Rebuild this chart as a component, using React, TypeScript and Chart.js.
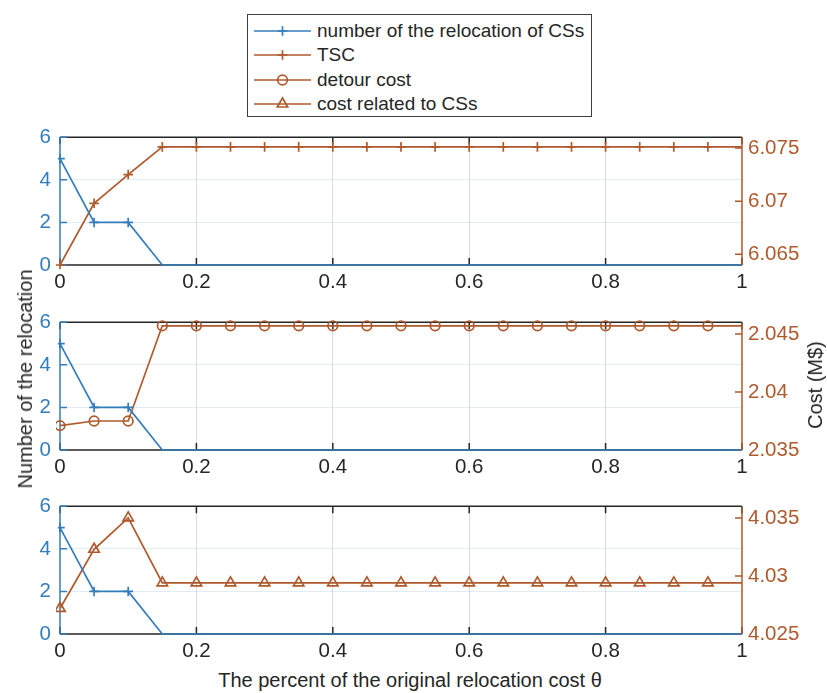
import React, { useEffect, useRef } from "react";
import { Chart, registerables } from "chart.js";

Chart.register(...registerables);

// ---------- data ----------
const theta = [0, 0.05, 0.1, 0.15, 0.2, 0.25, 0.3, 0.35, 0.4, 0.45, 0.5, 0.55, 0.6, 0.65, 0.7, 0.75, 0.8, 0.85, 0.9, 0.95, 1];
const relocationCount = [5, 2, 2, 0, 0, 0, 0, 0, 0, 0, 0, 0, 0, 0, 0, 0, 0, 0, 0, 0, 0];
const tscCost = [6.064, 6.0698, 6.0725, 6.0751, 6.0751, 6.0751, 6.0751, 6.0751, 6.0751, 6.0751, 6.0751, 6.0751, 6.0751, 6.0751, 6.0751, 6.0751, 6.0751, 6.0751, 6.0751, 6.0751, 6.0751];
const detourCost = [2.0371, 2.0375, 2.0375, 2.0457, 2.0457, 2.0457, 2.0457, 2.0457, 2.0457, 2.0457, 2.0457, 2.0457, 2.0457, 2.0457, 2.0457, 2.0457, 2.0457, 2.0457, 2.0457, 2.0457, 2.0457];
const csRelatedCost = [4.0272, 4.0323, 4.035, 4.0294, 4.0294, 4.0294, 4.0294, 4.0294, 4.0294, 4.0294, 4.0294, 4.0294, 4.0294, 4.0294, 4.0294, 4.0294, 4.0294, 4.0294, 4.0294, 4.0294, 4.0294];

const xTicks = [0, 0.2, 0.4, 0.6, 0.8, 1];
const xTickLabels = ["0", "0.2", "0.4", "0.6", "0.8", "1"];
const leftTicks = [0, 2, 4, 6];
const leftTickLabels = ["0", "2", "4", "6"];
const leftRange = [0, 6];

const tscTicks = [6.065, 6.07, 6.075];
const tscTickLabels = ["6.065", "6.07", "6.075"];
const tscRange = [6.064, 6.076];
const detourTicks = [2.035, 2.04, 2.045];
const detourTickLabels = ["2.035", "2.04", "2.045"];
const detourRange = [2.035, 2.046];
const csTicks = [4.025, 4.03, 4.035];
const csTickLabels = ["4.025", "4.03", "4.035"];
const csRange = [4.025, 4.036];

const legendLabels = ["number of the relocation of CSs", "TSC", "detour cost", "cost related to CSs"];
const xTitle = "The percent of the original relocation cost θ";
const yLeftTitle = "Number of the relocation";
const yRightTitle = "Cost (M$)";

// ---------- style ----------
const BLUE = "#337DBD";
const BROWN = "#AF5A2D";
const DARK = "#262626";
const GRID_GRAY = "#dcdcdc";
const GRID_BLUE = "rgba(51,125,189,0.15)";
const FONT = "'Liberation Sans', Arial, Helvetica, sans-serif";
const TICK_FONT = 20.5;
const W = 827;
const AREA_LEFT = 60;
const AREA_RIGHT = 742;
const AREA_H = 133;
const PAD_TOP = 16;
const XAXIS_H = 32;
const TICK_LEN = 7;
const LW = 1.7;

const boxPlugin = {
  id: "matlabBox",
  beforeDatasetsDraw(chart: any) {
    const { ctx, chartArea } = chart;
    const { left, right, top, bottom } = chartArea;
    const x = chart.scales.x;
    const yL = chart.scales.yL;
    const yR = chart.scales.yR;
    ctx.save();
    ctx.lineWidth = 1.5;
    ctx.strokeStyle = DARK;
    ctx.beginPath();
    ctx.moveTo(left, top);
    ctx.lineTo(right, top);
    ctx.moveTo(left, bottom);
    ctx.lineTo(right, bottom);
    xTicks.forEach((v) => {
      const px = x.getPixelForValue(v);
      ctx.moveTo(px, bottom);
      ctx.lineTo(px, bottom - TICK_LEN);
      ctx.moveTo(px, top);
      ctx.lineTo(px, top + TICK_LEN);
    });
    ctx.stroke();
    ctx.strokeStyle = BLUE;
    ctx.beginPath();
    ctx.moveTo(left, top);
    ctx.lineTo(left, bottom);
    leftTicks.forEach((v) => {
      const py = yL.getPixelForValue(v);
      ctx.moveTo(left, py);
      ctx.lineTo(left + TICK_LEN, py);
    });
    ctx.stroke();
    ctx.strokeStyle = BROWN;
    ctx.beginPath();
    ctx.moveTo(right, top);
    ctx.lineTo(right, bottom);
    (yR.ticks || []).forEach((t: any) => {
      const py = yR.getPixelForValue(t.value);
      ctx.moveTo(right, py);
      ctx.lineTo(right - TICK_LEN, py);
    });
    ctx.stroke();
    ctx.restore();
  },
};

type SubProps = {
  areaTop: number;
  costValues: number[];
  costLabel: string;
  range: number[];
  ticks: number[];
  tickLabels: string[];
  marker: string;
  markerRadius: number;
};

function Subplot(props: SubProps) {
  const ref = useRef<HTMLCanvasElement | null>(null);
  const height = PAD_TOP + AREA_H + XAXIS_H;
  useEffect(() => {
    if (!ref.current) return;
    const last = theta.length - 1;
    const chart = new Chart(ref.current, {
      type: "line",
      data: {
        datasets: [
          {
            label: legendLabels[0],
            data: theta.map((t, i) => ({ x: t, y: relocationCount[i] })),
            yAxisID: "yL",
            borderColor: BLUE,
            backgroundColor: "rgba(0,0,0,0)",
            borderWidth: LW,
            pointStyle: "cross",
            pointRadius: (c: any) => (c.raw && c.raw.y === 0 ? 0 : 4.8),
            pointBorderColor: BLUE,
            pointBorderWidth: LW,
            pointBackgroundColor: "rgba(0,0,0,0)",
            tension: 0,
            clip: 2,
          } as any,
          {
            label: props.costLabel,
            data: theta.map((t, i) => ({ x: t, y: props.costValues[i] })),
            yAxisID: "yR",
            borderColor: BROWN,
            backgroundColor: "rgba(0,0,0,0)",
            borderWidth: LW,
            pointStyle: props.marker,
            pointRadius: (c: any) => (c.dataIndex === last ? 0 : props.markerRadius),
            pointBorderColor: BROWN,
            pointBorderWidth: LW,
            pointBackgroundColor: "rgba(0,0,0,0)",
            tension: 0,
            clip: 4,
          } as any,
        ],
      },
      options: {
        responsive: false,
        animation: false,
        events: [],
        layout: { padding: { top: PAD_TOP, left: 0, right: 0, bottom: 0 } },
        plugins: { legend: { display: false }, tooltip: { enabled: false } },
        scales: {
          x: {
            type: "linear",
            min: 0,
            max: 1,
            afterBuildTicks: (s: any) => {
              s.ticks = xTicks.map((v) => ({ value: v }));
            },
            afterFit: (s: any) => {
              s.height = XAXIS_H;
            },
            ticks: {
              callback: (_v: any, i: number) => xTickLabels[i],
              color: DARK,
              font: { family: FONT, size: TICK_FONT },
              padding: 5,
              maxRotation: 0,
              autoSkip: false,
            },
            grid: {
              drawTicks: false,
              lineWidth: 1,
              color: (c: any) =>
                c.tick && (c.tick.value === 0 || c.tick.value === 1) ? "rgba(0,0,0,0)" : GRID_GRAY,
            },
            border: { display: false },
          },
          yL: {
            type: "linear",
            position: "left",
            min: leftRange[0],
            max: leftRange[1],
            afterBuildTicks: (s: any) => {
              s.ticks = leftTicks.map((v) => ({ value: v }));
            },
            afterFit: (s: any) => {
              s.width = AREA_LEFT;
            },
            ticks: {
              callback: (_v: any, i: number) => leftTickLabels[i],
              color: BLUE,
              font: { family: FONT, size: TICK_FONT },
              padding: 9,
            },
            grid: {
              drawTicks: false,
              lineWidth: 1,
              color: (c: any) =>
                c.tick && (c.tick.value === leftRange[0] || c.tick.value === leftRange[1])
                  ? "rgba(0,0,0,0)"
                  : GRID_BLUE,
            },
            border: { display: false },
          },
          yR: {
            type: "linear",
            position: "right",
            min: props.range[0],
            max: props.range[1],
            afterBuildTicks: (s: any) => {
              s.ticks = props.ticks.map((v) => ({ value: v }));
            },
            afterFit: (s: any) => {
              s.width = W - AREA_RIGHT;
            },
            ticks: {
              callback: (_v: any, i: number) => props.tickLabels[i],
              color: BROWN,
              font: { family: FONT, size: TICK_FONT },
              padding: 6,
            },
            grid: { display: false, drawTicks: false },
            border: { display: false },
          },
        },
      } as any,
      plugins: [boxPlugin],
    });
    return () => chart.destroy();
  }, []);
  return (
    <canvas
      ref={ref}
      width={W}
      height={height}
      style={{ position: "absolute", left: 0, top: props.areaTop - PAD_TOP, width: W, height }}
    />
  );
}

function LegendGlyph({ kind, color }: { kind: string; color: string }) {
  const cx = 34.5;
  const cy = 12;
  let marker: any = null;
  if (kind === "cross") {
    marker = (
      <path d={`M${cx - 4.8},${cy} L${cx + 4.8},${cy} M${cx},${cy - 4.8} L${cx},${cy + 4.8}`} stroke={color} strokeWidth={LW} />
    );
  } else if (kind === "circle") {
    marker = <circle cx={cx} cy={cy} r={4.8} fill="none" stroke={color} strokeWidth={LW} />;
  } else if (kind === "triangle") {
    const r = 6;
    const pts = [
      [cx, cy - r],
      [cx + r * Math.sin((2 * Math.PI) / 3), cy - r * Math.cos((2 * Math.PI) / 3)],
      [cx - r * Math.sin((2 * Math.PI) / 3), cy - r * Math.cos((2 * Math.PI) / 3)],
    ];
    marker = <polygon points={pts.map((p) => p.join(",")).join(" ")} fill="none" stroke={color} strokeWidth={LW} />;
  }
  return (
    <svg width={66} height={24} style={{ position: "absolute", left: 0, top: 0 }}>
      <line x1={6} y1={cy} x2={63} y2={cy} stroke={color} strokeWidth={LW} />
      {marker}
    </svg>
  );
}

const legendKinds = ["cross", "cross", "circle", "triangle"];
const legendColors = [BLUE, BROWN, BROWN, BROWN];

export default function App() {
  useEffect(() => {
    document.body.style.margin = "0";
  }, []);
  return (
    <div style={{ position: "relative", width: W, height: 693, background: "#fff", fontFamily: FONT, overflow: "hidden" }}>
      <Subplot areaTop={132} costValues={tscCost} costLabel={legendLabels[1]} range={tscRange} ticks={tscTicks} tickLabels={tscTickLabels} marker="cross" markerRadius={4.8} />
      <Subplot areaTop={317} costValues={detourCost} costLabel={legendLabels[2]} range={detourRange} ticks={detourTicks} tickLabels={detourTickLabels} marker="circle" markerRadius={4.8} />
      <Subplot areaTop={501} costValues={csRelatedCost} costLabel={legendLabels[3]} range={csRange} ticks={csTicks} tickLabels={csTickLabels} marker="triangle" markerRadius={6} />

      {/* legend */}
      <div
        style={{
          position: "absolute",
          left: 247,
          top: 14,
          width: 343,
          height: 101,
          border: "1.5px solid #404040",
          background: "#fff",
        }}
      >
        {legendLabels.map((lab, i) => (
          <div key={i} style={{ position: "absolute", left: 0, top: 4 + i * 24.3, height: 24, width: 343 }}>
            <LegendGlyph kind={legendKinds[i]} color={legendColors[i]} />
            <div
              style={{
                position: "absolute",
                left: 69,
                top: 0,
                height: 24,
                lineHeight: "24px",
                fontSize: 19,
                color: DARK,
                whiteSpace: "nowrap",
              }}
            >
              {lab}
            </div>
          </div>
        ))}
      </div>

      {/* axis titles */}
      <div
        style={{
          position: "absolute",
          left: 25,
          top: 379,
          transform: "translate(-50%, -50%) rotate(-90deg)",
          fontSize: 20,
          color: DARK,
          whiteSpace: "nowrap",
          lineHeight: "24px",
        }}
      >
        {yLeftTitle}
      </div>
      <div
        style={{
          position: "absolute",
          left: 815,
          top: 385,
          transform: "translate(-50%, -50%) rotate(-90deg)",
          fontSize: 20,
          color: DARK,
          whiteSpace: "nowrap",
          lineHeight: "24px",
        }}
      >
        {yRightTitle}
      </div>
      <div
        style={{
          position: "absolute",
          left: 410,
          top: 680,
          transform: "translate(-50%, -50%)",
          fontSize: 20,
          color: DARK,
          whiteSpace: "nowrap",
          lineHeight: "24px",
        }}
      >
        {xTitle}
      </div>
    </div>
  );
}
